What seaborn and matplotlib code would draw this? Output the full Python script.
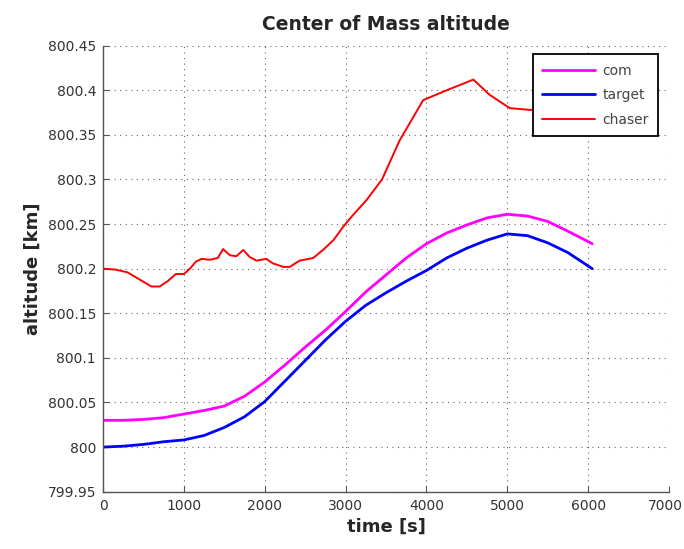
import matplotlib
matplotlib.use("Agg")
import matplotlib.pyplot as plt
from matplotlib.ticker import FuncFormatter
from matplotlib.transforms import ScaledTranslation
import numpy as np
import pandas as pd
import seaborn as sns

# --- data -------------------------------------------------------------
com_t = [0, 250, 500, 750, 1000, 1250, 1500, 1750, 2000, 2250, 2500, 2750,
         3000, 3250, 3500, 3750, 4000, 4250, 4500, 4750, 5000, 5250, 5500,
         5750, 6050]
com_alt = [800.030, 800.030, 800.031, 800.033, 800.037, 800.041, 800.046,
           800.057, 800.073, 800.092, 800.112, 800.131, 800.152, 800.174,
           800.193, 800.212, 800.228, 800.240, 800.249, 800.257, 800.261,
           800.259, 800.253, 800.242, 800.228]

target_t = com_t
target_alt = [800.000, 800.001, 800.003, 800.006, 800.008, 800.013, 800.022,
              800.034, 800.051, 800.074, 800.097, 800.120, 800.141, 800.159,
              800.173, 800.186, 800.198, 800.212, 800.223, 800.232, 800.239,
              800.237, 800.229, 800.218, 800.200]

chaser_t = [0, 150, 300, 450, 600, 700, 800, 900, 1000, 1075, 1150, 1220,
            1320, 1420, 1485, 1570, 1650, 1735, 1815, 1900, 1960, 2020, 2100,
            2230, 2310, 2430, 2600, 2720, 2850, 2970, 3090, 3260, 3450, 3670,
            3960, 4250, 4580, 4780, 5030, 5280, 5500, 5750, 6050]
chaser_alt = [800.200, 800.199, 800.196, 800.188, 800.180, 800.180, 800.186,
              800.194, 800.194, 800.200, 800.208, 800.211, 800.210, 800.212,
              800.222, 800.215, 800.214, 800.221, 800.213, 800.209, 800.210,
              800.211, 800.206, 800.202, 800.202, 800.209, 800.212, 800.221,
              800.232, 800.247, 800.260, 800.277, 800.300, 800.344, 800.389,
              800.400, 800.412, 800.395, 800.380, 800.378, 800.379, 800.381,
              800.383]

x_ticks = [0, 1000, 2000, 3000, 4000, 5000, 6000, 7000]
y_ticks = [799.95, 800.0, 800.05, 800.1, 800.15, 800.2, 800.25, 800.3,
           800.35, 800.4, 800.45]

series = [
    ("com", com_t, com_alt, "#ff00ff", 2.0),
    ("target", target_t, target_alt, "#0000ff", 2.0),
    ("chaser", chaser_t, chaser_alt, "#ff0000", 1.4),
]

# --- figure -----------------------------------------------------------
sns.set_style("white")
plt.rcParams["font.family"] = ["DejaVu Sans"]

fig = plt.figure(figsize=(6.84, 5.49), dpi=100)
ax = fig.add_axes([0.1506, 0.1044, 0.8275, 0.8124])

for name, t, alt, color, lw in series:
    df = pd.DataFrame({"time": t, "altitude": alt})
    sns.lineplot(data=df, x="time", y="altitude", ax=ax, color=color,
                 linewidth=lw, label=name, sort=False, estimator=None)

ax.set_xlim(0, 7000)
ax.set_ylim(799.95, 800.45)
ax.set_xticks(x_ticks)
ax.set_yticks(y_ticks)
ax.yaxis.set_major_formatter(FuncFormatter(lambda v, p: "%g" % round(v, 4)))
ax.xaxis.set_major_formatter(FuncFormatter(lambda v, p: "%d" % v))

ax.grid(True, color="#666666", linestyle=(0, (1, 4)), linewidth=0.8)
ax.set_axisbelow(True)

for side in ("top", "right"):
    ax.spines[side].set_visible(False)
for side in ("left", "bottom"):
    ax.spines[side].set_color("#555555")
    ax.spines[side].set_linewidth(1.0)

ax.tick_params(axis="both", direction="in", length=4, width=0.8,
               colors="#555555", labelcolor="#333333", labelsize=10,
               pad=5, left=True, bottom=True)

# nudge the last x tick label so it stays inside the canvas
last = ax.get_xticklabels()[-1]
last.set_transform(last.get_transform()
                   + ScaledTranslation(-4 / 100, 0, fig.dpi_scale_trans))

ax.set_title("Center of Mass altitude", fontsize=13.5, fontweight="bold",
             pad=11)
ax.set_xlabel("time [s]", fontsize=13, fontweight="bold", labelpad=4)
ax.set_ylabel("altitude [km]", fontsize=13, fontweight="bold", labelpad=4)

leg = ax.legend(loc="upper right", bbox_to_anchor=(0.981, 0.981),
                borderaxespad=0, fancybox=False, framealpha=1,
                edgecolor="black", fontsize=10, handlelength=3.8,
                labelspacing=0.75, handletextpad=0.5, borderpad=0.7)
leg.get_frame().set_linewidth(1.3)
for txt in leg.get_texts():
    txt.set_color("#444444")

fig.savefig("out.png", dpi=100)
